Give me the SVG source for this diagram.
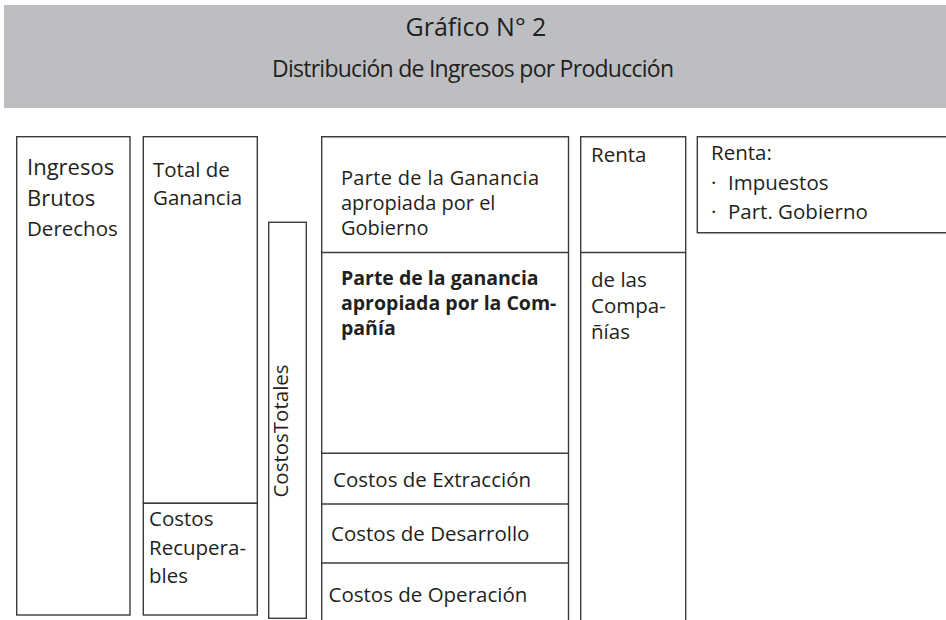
<svg xmlns="http://www.w3.org/2000/svg" width="946" height="620" viewBox="0 0 946 620">
<style>
.box{fill:#ffffff;stroke:#3c3c3c;stroke-width:1.4}
.ln{fill:none;stroke:#3c3c3c;stroke-width:1.4}
.t{font-family:"Open Sans","Liberation Sans",sans-serif;font-size:20.5px;fill:#231f20}
.b{font-weight:bold;font-size:19.5px}
.big{font-size:22px}
.g{font-size:20px}
.ttl{font-family:"Open Sans","Liberation Sans",sans-serif;fill:#231f20;text-anchor:middle}
</style>
<rect width="946" height="620" fill="#ffffff"/>
<g id="header">
<rect x="4" y="5" width="942" height="103" fill="#bdbec2"/>
<text class="ttl" x="476" y="36" font-size="25">Gráfico N° 2</text>
<text class="ttl" x="473" y="77" font-size="23" textLength="402" lengthAdjust="spacing">Distribución de Ingresos por Producción</text>
</g>
<g id="ingresos">
<rect class="box" x="16.7" y="136.7" width="113.3" height="478.3"/>
<text class="t big" x="27" y="175">Ingresos</text>
<text class="t big" x="27" y="206">Brutos</text>
<text class="t" x="27" y="235.5">Derechos</text>
</g>
<g id="total-ganancia">
<rect class="box" x="143.3" y="136.7" width="114" height="366.6"/>
<text class="t" x="153" y="177">Total de</text>
<text class="t" x="153" y="204.5">Ganancia</text>
</g>
<g id="costos-recuperables">
<rect class="box" x="143.3" y="503.3" width="114" height="111.7"/>
<text class="t" x="149" y="526">Costos</text>
<text class="t" x="149" y="555">Recupera-</text>
<text class="t" x="149" y="583">bles</text>
</g>
<g id="costos-totales">
<rect class="box" x="268.7" y="222.3" width="37.6" height="396"/>
<text class="t" text-anchor="middle" transform="translate(288.3 431) rotate(-90)">CostosTotales</text>
</g>
<g id="parte-gobierno">
<path class="ln" d="M321.7 620V136.7H568.5V620"/>
<path class="ln" d="M321.7 252.5H568.5"/>
<text class="t g" x="341" y="184.5" textLength="198" lengthAdjust="spacing">Parte de la Ganancia</text>
<text class="t g" x="341" y="209.5">apropiada por el</text>
<text class="t g" x="341" y="234.5">Gobierno</text>
</g>
<g id="parte-compania">
<text class="t b" x="341" y="285">Parte de la ganancia</text>
<text class="t b" x="341" y="310">apropiada por la Com-</text>
<text class="t b" x="341" y="335">pañía</text>
</g>
<g id="costos-extraccion">
<path class="ln" d="M321.7 453.3H568.5"/>
<text class="t" x="333" y="487">Costos de Extracción</text>
</g>
<g id="costos-desarrollo">
<path class="ln" d="M321.7 504H568.5"/>
<text class="t" x="331" y="541">Costos de Desarrollo</text>
</g>
<g id="costos-operacion">
<path class="ln" d="M321.7 563H568.5"/>
<text class="t" x="328.5" y="602">Costos de Operación</text>
</g>
<g id="renta">
<path class="ln" d="M580.7 620V136.7H685.7V620"/>
<path class="ln" d="M580.7 252.5H685.7"/>
<text class="t" x="591" y="162">Renta</text>
</g>
<g id="renta-companias">
<text class="t" x="591" y="287">de las</text>
<text class="t" x="591" y="313">Compa-</text>
<text class="t" x="591" y="339">ñías</text>
</g>
<g id="renta-detalle">
<path class="box" d="M946 136.7H697.3V232.7H946"/>
<text class="t" x="711" y="160">Renta:</text>
<text class="t" y="190"><tspan x="711">·</tspan><tspan x="728">Impuestos</tspan></text>
<text class="t" y="218.5"><tspan x="711">·</tspan><tspan x="728">Part. Gobierno</tspan></text>
</g>
<g id="connectors"/>
</svg>
